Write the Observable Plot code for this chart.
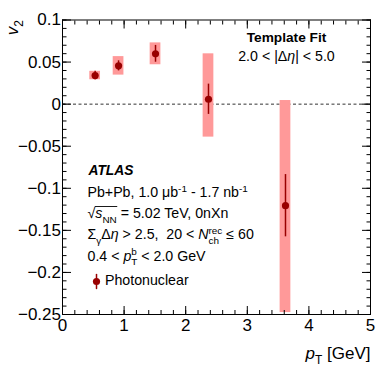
<!DOCTYPE html>
<html><head><meta charset="utf-8">
<script src="https://cdn.jsdelivr.net/npm/d3@7"></script>
<script src="https://cdn.jsdelivr.net/npm/@observablehq/plot@0.6"></script>
<style>html,body{margin:0;padding:0;background:#fff;}</style>
</head><body><div id="chart"></div>
<script>
// ---- data ----
const ptBins   = [0.53, 0.91, 1.51, 2.37, 3.62];
const v2Values = [0.034, 0.0455, 0.0598, 0.0058, -0.1207];
const statErr  = [0.005, 0.006, 0.010, 0.018, 0.037];
const sysUp    = [0.005, 0.011, 0.013, 0.054, 0.125];
const sysDown  = [0.005, 0.011, 0.013, 0.045, 0.127];

const xMajorTicks = [0, 1, 2, 3, 4, 5];
const xMinorTicks = d3.range(0, 26).map(i => i / 5);
const yMajorTicks = [-0.25, -0.2, -0.15, -0.1, -0.05, 0, 0.05, 0.1];
const yMinorTicks = d3.range(-25, 11).map(i => i / 100);

const headerLines = ["Template Fit", "2.0 < |Δ~{η}| < 5.0"];
const experimentLabel = ["ATLAS"];
const infoLines = [
  "Pb+Pb, 1.0 μb^{-1} - 1.7 nb^{-1}",
  "√~{s}_{NN} = 5.02 TeV, 0nXn",
  "Σ_{γ}Δ~{η} > 2.5,  20 < ~{N}_{ch}^{rec} ≤ 60",
  "0.4 < ~{p}_{T}^{b} < 2.0 GeV"
];
const legendLabels = ["Photonuclear"];
const xTitle = ["~{p}_{T} [GeV]"];
const yTitle = ["~{v}_{2}"];

// ---- styling ----
const pointColor = "#990000";
const boxColor = "#ff9999";
const boxHalf = 0.087;
const font = "'Liberation Sans', Arial, Helvetica, sans-serif";

const points = ptBins.map((pt, i) => ({pt, v2: v2Values[i], stat: statErr[i], up: sysUp[i], down: sysDown[i]}));
const fmtY = d => d === 0 ? "0" : (d < 0 ? "\u2212" : "") + String(Math.abs(d));

const txt = 14.2;
const plot = Plot.plot({
  width: 390, height: 375,
  marginLeft: 62, marginRight: 20, marginTop: 19.5, marginBottom: 61,
  style: {fontFamily: font, fontSize: "17px", color: "black", background: "white"},
  x: {domain: [0, 5]},
  y: {domain: [-0.25, 0.1]},
  marks: [
    Plot.ruleY([0], {stroke: "#333", strokeWidth: 1, strokeDasharray: "3,2.5"}),
    Plot.rect(points, {x1: d => d.pt - boxHalf, x2: d => d.pt + boxHalf, y1: d => d.v2 - d.down, y2: d => d.v2 + d.up, fill: boxColor}),
    Plot.ruleX(points, {x: "pt", y1: d => d.v2 - d.stat, y2: d => d.v2 + d.stat, stroke: pointColor, strokeWidth: 1.5}),
    Plot.dot(points, {x: "pt", y: "v2", r: 3.6, fill: pointColor}),
    // inward ticks on all four sides
    Plot.axisX({anchor: "bottom", ticks: xMajorTicks, tickSize: 8, dy: -8, fill: "none", label: null}),
    Plot.axisX({anchor: "bottom", ticks: xMinorTicks, tickSize: 4, dy: -4, fill: "none", label: null}),
    Plot.axisX({anchor: "top", ticks: xMajorTicks, tickSize: 8, dy: 8, fill: "none", label: null}),
    Plot.axisX({anchor: "top", ticks: xMinorTicks, tickSize: 4, dy: 4, fill: "none", label: null}),
    Plot.axisY({anchor: "left", ticks: yMajorTicks, tickSize: 9, dx: 9, fill: "none", label: null}),
    Plot.axisY({anchor: "left", ticks: yMinorTicks, tickSize: 4.5, dx: 4.5, fill: "none", label: null}),
    Plot.axisY({anchor: "right", ticks: yMajorTicks, tickSize: 9, dx: -9, fill: "none", label: null}),
    Plot.axisY({anchor: "right", ticks: yMinorTicks, tickSize: 4.5, dx: -4.5, fill: "none", label: null}),
    // tick labels
    Plot.axisX({anchor: "bottom", ticks: xMajorTicks, tickSize: 0, tickPadding: 4, tickFormat: d => String(d), fontSize: 17, label: null}),
    Plot.axisY({anchor: "left", ticks: yMajorTicks, tickSize: 0, tickPadding: 1.5, tickFormat: fmtY, fontSize: 17, label: null}),
    Plot.frame({stroke: "black", strokeWidth: 1}),
    // axis titles
    Plot.text(yTitle, {frameAnchor: "top-left", dx: -45, dy: 0, rotate: -90, textAnchor: "end", lineAnchor: "bottom", fontSize: 17}),
    Plot.text(xTitle, {frameAnchor: "bottom-right", dx: 0, dy: 44, textAnchor: "end", lineAnchor: "bottom", fontSize: 17}),
    // annotations
    Plot.text([headerLines[0]], {frameAnchor: "top-left", dx: 224, dy: 21.5, textAnchor: "middle", lineAnchor: "bottom", fontSize: 13.7, fontWeight: "bold"}),
    Plot.text([headerLines[1]], {frameAnchor: "top-left", dx: 224, dy: 40.5, textAnchor: "middle", lineAnchor: "bottom", fontSize: txt}),
    Plot.text(experimentLabel, {frameAnchor: "top-left", dx: 26, dy: 154.5, textAnchor: "start", lineAnchor: "bottom", fontSize: 13.8, fontWeight: "bold", fontStyle: "italic"}),
    ...infoLines.map((s, i) => Plot.text([s], {frameAnchor: "top-left", dx: 25, dy: 177.2 + 21.1 * i, textAnchor: "start", lineAnchor: "bottom", fontSize: txt})),
    // legend
    Plot.vector([0], {frameAnchor: "top-left", dx: 34, dy: 261.5, length: 14, rotate: 0, anchor: "middle", stroke: pointColor, strokeWidth: 1.5,
      shape: {draw(ctx, l) { ctx.moveTo(0, 0); ctx.lineTo(0, -l); }}}),
    Plot.dot([0], {frameAnchor: "top-left", dx: 34, dy: 261.5, r: 3.6, fill: pointColor}),
    Plot.text(legendLabels, {frameAnchor: "top-left", dx: 42.5, dy: 265, textAnchor: "start", lineAnchor: "bottom", fontSize: txt})
  ]
});
document.getElementById("chart").appendChild(plot);

// rich text: _{sub}, ^{sup}, ~{italic}
const NS = "http://www.w3.org/2000/svg";
function richify(el) {
  const s = el.textContent;
  if (!/[_^~]\{/.test(s)) return;
  const fs = parseFloat(getComputedStyle(el).fontSize) || 14;
  const parts = s.split(/([_^~]\{[^}]*\})/).filter(p => p);
  el.textContent = "";
  let shift = 0, prevSub = null, pendingDx = 0;
  for (const p of parts) {
    const kind = /^[_^~]\{/.test(p) ? p[0] : "";
    const content = kind ? p.slice(2, -1) : p;
    const t = document.createElementNS(NS, "tspan");
    t.textContent = content;
    let target = 0;
    if (kind === "_") { target = 0.3 * fs; t.setAttribute("font-size", 0.7 * fs); }
    else if (kind === "^") { target = -0.4 * fs; t.setAttribute("font-size", 0.7 * fs); }
    else if (kind === "~") { t.setAttribute("font-style", "italic"); }
    if (target !== shift) t.setAttribute("dy", target - shift);
    shift = target;
    el.appendChild(t);
    if (kind === "^" && prevSub) {
      const subLen = prevSub.getComputedTextLength();
      t.setAttribute("dx", -subLen);
      const supLen = t.getComputedTextLength();
      pendingDx = Math.max(0, subLen - supLen);
    } else if (pendingDx) {
      t.setAttribute("dx", pendingDx);
      pendingDx = 0;
    }
    prevSub = kind === "_" ? t : null;
  }
  // radical bar over the argument of a square root (√s_NN)
  const full = el.textContent;
  const r = full.indexOf("√");
  if (r >= 0) {
    const endIdx = full.indexOf(" ", r) - 1;
    const a = el.getExtentOfChar(r), b = el.getExtentOfChar(endIdx);
    const yTop = a.y + 1.2;
    const line = document.createElementNS(NS, "path");
    line.setAttribute("d", `M${a.x + a.width - 0.6},${yTop}H${b.x + b.width + 0.5}`);
    line.setAttribute("stroke", "black");
    line.setAttribute("stroke-width", "0.9");
    line.setAttribute("fill", "none");
    if (el.getAttribute("transform")) line.setAttribute("transform", el.getAttribute("transform"));
    el.parentNode.appendChild(line);
  }
}
plot.querySelectorAll("text").forEach(richify);
</script></body></html>
